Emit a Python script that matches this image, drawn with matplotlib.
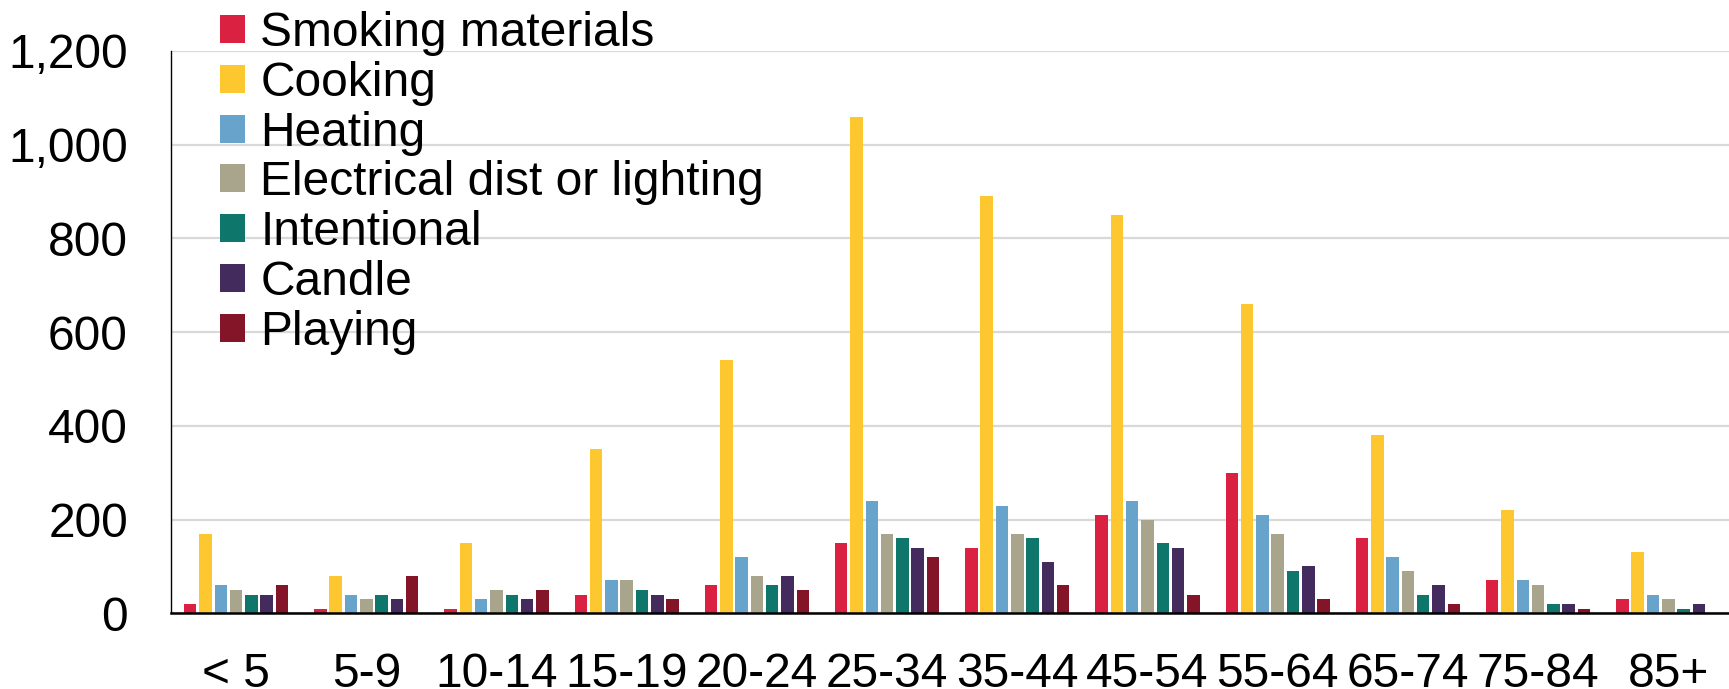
import matplotlib
matplotlib.use("Agg")
import matplotlib.pyplot as plt
import numpy as np

plt.rcParams['font.family'] = ['Liberation Sans', 'DejaVu Sans']

age_groups = ["< 5", "5-9", "10-14", "15-19", "20-24", "25-34", "35-44",
              "45-54", "55-64", "65-74", "75-84", "85+"]

smoking = [20, 10, 10, 40, 60, 150, 140, 210, 300, 160, 70, 30]
cooking = [170, 80, 150, 350, 540, 1060, 890, 850, 660, 380, 220, 130]
heating = [60, 40, 30, 70, 120, 240, 230, 240, 210, 120, 70, 40]
electrical = [50, 30, 50, 70, 80, 170, 170, 200, 170, 90, 60, 30]
intentional = [40, 40, 40, 50, 60, 160, 160, 150, 90, 40, 20, 10]
candle = [40, 30, 30, 40, 80, 140, 110, 140, 100, 60, 20, 20]
playing = [60, 80, 50, 30, 50, 120, 60, 40, 30, 20, 10, 0]

series_names = ["Smoking materials", "Cooking", "Heating",
                "Electrical dist or lighting", "Intentional", "Candle", "Playing"]
series_values = [smoking, cooking, heating, electrical, intentional, candle, playing]
colors = ["#DA2142", "#FDC72F", "#67A3CA", "#A9A48C", "#0F766C", "#432B5D", "#841427"]

y_ticks = [0, 200, 400, 600, 800, 1000, 1200]
y_tick_labels = ["0", "200", "400", "600", "800", "1,000", "1,200"]

FS = 34.5
W, H = 1729, 689
fig = plt.figure(figsize=(W / 100, H / 100), dpi=100)
ax_left, ax_right = 171, 1729
ax_top, ax_bottom = 51, 613.3
ax = fig.add_axes([ax_left / W, (H - ax_bottom) / H,
                   (ax_right - ax_left) / W, (ax_bottom - ax_top) / H])

x = np.arange(len(age_groups))
pitch = 0.1175
for i, (name, vals, col) in enumerate(zip(series_names, series_values, colors)):
    ax.bar(x + (i - 3) * pitch, vals, width=pitch * 0.82, color=col,
           label=name, linewidth=0, zorder=3)

group_px = 130.2
ax.set_xlim(-0.5, -0.5 + (ax_right - ax_left) / group_px)
ax.set_ylim(0, 1200)
ax.set_yticks(y_ticks)
ax.set_yticklabels(y_tick_labels)
ax.set_xticks(x)
ax.set_xticklabels(age_groups)
ax.tick_params(axis='both', length=0, labelsize=FS)
ax.tick_params(axis='y', pad=31)
ax.tick_params(axis='x', pad=28)

ax.yaxis.grid(True, color="#D9D9D9", linewidth=1.6, zorder=0)
ax.set_axisbelow(True)
for s in ["top", "right"]:
    ax.spines[s].set_visible(False)
ax.spines["left"].set_linewidth(1.0)
ax.spines["left"].set_color("black")
ax.spines["bottom"].set_linewidth(1.8)
ax.spines["bottom"].set_color("black")
ax.spines["bottom"].set_zorder(4)

leg = ax.legend(loc="upper left", bbox_to_anchor=(220 / W, 1 - 11 / H),
                bbox_transform=fig.transFigure, frameon=False, fontsize=FS,
                handlelength=0.52, handleheight=0.52, handletextpad=0.32,
                labelspacing=0.10, borderpad=0, borderaxespad=0)

fig.savefig("out.png", dpi=100)
